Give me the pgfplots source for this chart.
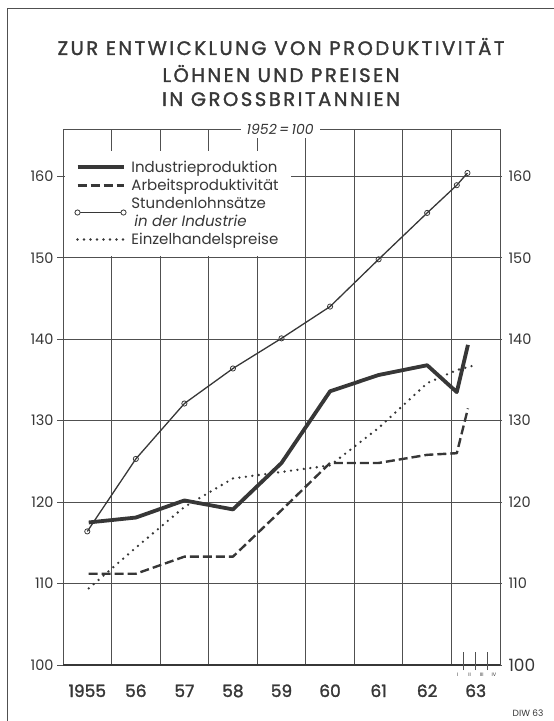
\documentclass[border=0pt]{standalone}
\usepackage{fontspec}
\setmainfont{Poppins}
\newfontface\semib[FakeBold=1.6]{Poppins}
\usepackage{pgfplots}
\pgfplotsset{compat=1.18}
\definecolor{ink}{RGB}{55,55,55}
\definecolor{gridc}{RGB}{80,80,80}
\newfontface\titlef[FakeBold=1.6, LetterSpace=13]{Poppins}
\begin{document}
\begin{tikzpicture}[x=1pt,y=1pt]
\useasboundingbox (0,0) rectangle (554,721);
\draw[gridc, line width=1pt] (7,0) -- (7,712) -- (554,712);
\node[ink, anchor=base, font=\fontsize{19.5}{20}\titlef] at (281,666) {ZUR ENTWICKLUNG VON PRODUKTIVITÄT};
\node[ink, anchor=base, font=\fontsize{19.5}{20}\titlef] at (281,639) {LÖHNEN UND PREISEN};
\node[ink, anchor=base, font=\fontsize{19.5}{20}\titlef] at (281,615) {IN GROSSBRITANNIEN};
\node[ink, anchor=base east, font=\fontsize{9}{10}\selectfont] at (547,5) {DIW 63};
\begin{axis}[
  at={(63pt,56pt)}, anchor=south west,
  scale only axis, width=437pt, height=536pt,
  xmin=0, xmax=9, ymin=100, ymax=165.8,
  axis line style={gridc, line width=0.9pt},
  xtick={0.5,1.5,...,8.5},
  xticklabels={1955,56,57,58,59,60,61,62,63},
  x tick label style={font=\fontsize{17}{17}\semib, text=ink, anchor=base, yshift=-26pt},
  xtick style={draw=none},
  extra x ticks={1,2,3,4,5,6,7,8,9},
  extra x tick labels={},
  extra x tick style={grid=major, tick align=outside, major tick length=28pt, tick style={gridc, line width=0.9pt}},
  ytick={100,110,...,160},
  yticklabels={100,110,120,130,140,150,160},
  ytick pos=left,
  ymajorgrids,
  tick align=outside,
  major tick length=6pt,
  y tick label style={font=\fontsize{14.5}{14.5}\selectfont, text=ink},
  ytick style={gridc, line width=0.9pt},
  grid style={gridc, line width=0.9pt},
  clip=false,
  legend cell align=left,
  legend style={at={(axis description cs:0.003,0.960)}, anchor=north west, draw=none, fill=white,
    font=\fontsize{15}{17.5}\selectfont, text=ink, inner xsep=10pt, inner ysep=8pt, row sep=1.5pt,
    cells={align=left}},
  legend image code/.code={\draw[#1] (0pt,0pt) -- (46pt,0pt); \path (50pt,0pt);},
]
\draw[ink, line width=1.8pt] (axis cs:0,100) -- (axis cs:9,100);
\addplot[ink, line width=3.8pt, line join=round] coordinates {
 (0.53,117.5) (1.5,118.1) (2.5,120.2) (3.5,119.1) (4.5,124.8) (5.5,133.6) (6.5,135.6) (7.5,136.8) (8.11,133.5) (8.34,139.3)};
\addlegendentry{Industrieproduktion}
\addplot[ink, line width=2.4pt, dash pattern=on 9pt off 4pt, line join=round] coordinates {
 (0.53,111.2) (1.5,111.2) (2.5,113.3) (3.5,113.3) (4.5,119.0) (5.5,124.8) (6.5,124.8) (7.5,125.8) (8.11,126.0) (8.34,131.5)};
\addlegendentry{Arbeitsproduktivität}
\addplot[ink, line width=1.3pt, mark=o, mark size=2.6pt, mark options={solid, fill=white, line width=0.8pt},
  legend image code/.code={\draw[ink, line width=1.3pt] (0pt,0pt) -- (46pt,0pt);
    \draw[ink, fill=white, line width=0.8pt] (0pt,0pt) circle (2.6pt) (46pt,0pt) circle (2.6pt); \path (50pt,0pt);}] coordinates {
 (0.5,116.4) (1.5,125.3) (2.5,132.1) (3.5,136.4) (4.5,140.1) (5.5,144.0) (6.5,149.8) (7.5,155.5) (8.11,158.9) (8.33,160.4)};
\addlegendentry{Stundenlohnsätze\\\hspace{3pt}\textit{in der Industrie}}
\addplot[ink, line width=2.6pt, line cap=round, dash pattern=on 0pt off 6.5pt] coordinates {
 (0.53,109.4) (1.5,114.4) (2.5,119.4) (3.5,122.9) (4.5,123.7) (5.5,124.5) (6.5,129.1) (7.5,134.6) (8.11,136.2) (8.42,136.7)};
\addlegendentry{Einzelhandelspreise}
\draw[gridc, line width=0.9pt] ([yshift=-5pt]axis cs:8.25,100) -- ([yshift=13pt]axis cs:8.25,100);
\draw[gridc, line width=0.9pt] ([yshift=-5pt]axis cs:8.5,100) -- ([yshift=13pt]axis cs:8.5,100);
\draw[gridc, line width=0.9pt] ([yshift=-5pt]axis cs:8.75,100) -- ([yshift=13pt]axis cs:8.75,100);
\node[ink, font=\fontsize{5}{5}\selectfont] at ([yshift=-10pt]axis cs:8.125,100) {I};
\node[ink, font=\fontsize{5}{5}\selectfont] at ([yshift=-10pt]axis cs:8.375,100) {II};
\node[ink, font=\fontsize{5}{5}\selectfont] at ([yshift=-10pt]axis cs:8.625,100) {III};
\node[ink, font=\fontsize{5}{5}\selectfont] at ([yshift=-10pt]axis cs:8.875,100) {IV};
\node[ink, fill=white, inner xsep=6pt, inner ysep=4pt, font=\fontsize{14}{14}\selectfont\itshape] at (axis description cs:0.497,1) {1952\,=\,100};
\end{axis}
\begin{axis}[
  at={(63pt,56pt)}, anchor=south west,
  scale only axis, width=437pt, height=536pt,
  xmin=0, xmax=9, ymin=100, ymax=165.8,
  axis x line=none, axis y line*=right,
  axis line style={gridc, line width=0.9pt},
  ytick={100,110,...,160},
  yticklabels={{\fontsize{17}{17}\selectfont 100},110,120,130,140,150,160},
  tick align=outside, major tick length=2pt,
  ytick style={gridc, line width=0.9pt},
  y tick label style={font=\fontsize{14.5}{14.5}\selectfont, text=ink, xshift=3pt},
]
\addplot[draw=none] coordinates {(0,100)};
\end{axis}
\end{tikzpicture}
\end{document}
